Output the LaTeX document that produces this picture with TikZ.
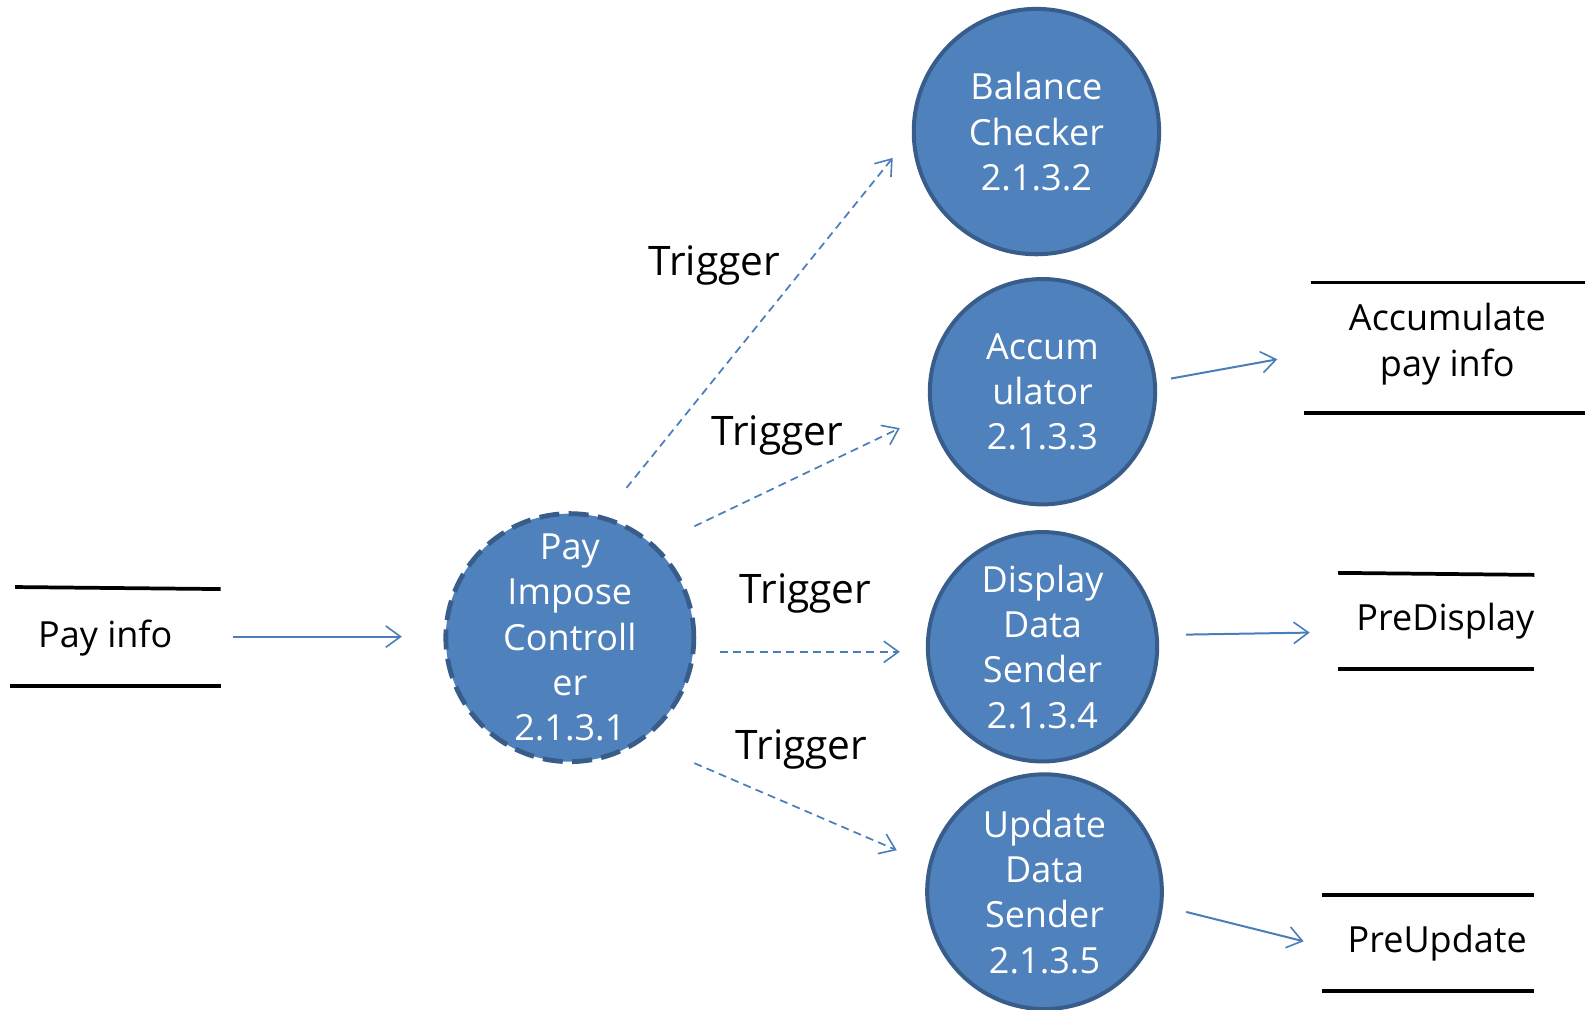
\documentclass[tikz,border=0pt]{standalone}
\usepackage{fontspec}
\setmainfont{Open Sans}
\usetikzlibrary{arrows.meta,shapes.geometric}
\definecolor{procfill}{HTML}{4F81BD}
\definecolor{procline}{HTML}{385D8A}
\definecolor{flowcol}{HTML}{4A7EBB}
\tikzset{
  proc/.style={circle, fill=procfill, draw=procline, line width=3pt, inner sep=0pt},
  proctext/.style={text=white, align=center, inner sep=0pt, font=\fontsize{27}{34}\selectfont},
  lbl/.style={font=\fontsize{27}{34}\selectfont, align=center, inner sep=0pt},
  triglbl/.style={font=\fontsize{30.5}{34}\selectfont, inner sep=0pt},
  storeline/.style={line width=2.8pt, black},
  trig/.style={draw=flowcol, line width=1.3pt, dash pattern=on 6pt off 4pt, -{Straight Barb[length=11pt,width=16pt,line width=1.2pt]}},
  flow/.style={draw=flowcol, line width=1.5pt, -{Straight Barb[length=11pt,width=16pt,line width=1.2pt]}},
}
\begin{document}
\begin{tikzpicture}[x=0.759pt,y=-0.759pt]
\useasboundingbox (0,0) rectangle (1566,997);
% processes
\node[proc, line width=3.6pt, dash pattern=on 15pt off 7pt, minimum size=186pt] (p1) at (563,630) {};
\node[proctext] (p1t) at (p1.center) {Pay\\Impose\\Controll\\er\\2.1.3.1};
\node[proc, minimum size=184pt] (p2) at (1024,130) {};
\node[proctext] (p2t) at (p2.center) {Balance\\Checker\\2.1.3.2};
\node[proc, minimum size=169pt] (p3) at (1030,387) {};
\node[proctext] (p3t) at (p3.center) {Accum\\ulator\\2.1.3.3};
\node[proc, minimum size=172pt] (p4) at (1030,639) {};
\node[proctext] (p4t) at (p4.center) {Display\\Data\\Sender\\2.1.3.4};
\node[proc, minimum size=176pt] (p5) at (1032,881) {};
\node[proctext] (p5t) at (p5.center) {Update\\Data\\Sender\\2.1.3.5};
% stores
\draw[storeline] (15,580) -- (218,582);
\draw[storeline] (10,678) -- (218,678);
\node[lbl] (s0) at (104,630) {Pay info};
\draw[storeline] (1295,279) -- (1570,279);
\draw[storeline] (1288,408) -- (1570,408);
\node[lbl] (s1) at (1430,340) {Accumulate\\pay info};
\draw[storeline] (1322,566) -- (1516,568);
\draw[storeline] (1322,661) -- (1516,661);
\node[lbl] (s2) at (1428,614) {PreDisplay};
\draw[storeline] (1306,884) -- (1516,884);
\draw[storeline] (1306,979) -- (1516,979);
\node[lbl] (s3) at (1420,932) {PreUpdate};
% connector ends
\coordinate (a0s) at (230,629); \coordinate (a0e) at (397,629);
\coordinate (t1s) at (619,482); \coordinate (t1e) at (882,156);
\coordinate (t2s) at (686,520); \coordinate (t2e) at (889,423);
\coordinate (t3s) at (711,644); \coordinate (t3e) at (889,644);
\coordinate (t4s) at (686,754); \coordinate (t4e) at (886,840);
\coordinate (f1s) at (1157,374); \coordinate (f1e) at (1262,355);
\coordinate (f2s) at (1172,627); \coordinate (f2e) at (1294,625);
\coordinate (f3s) at (1172,901); \coordinate (f3e) at (1288,930);
\draw[flow] (a0s) -- (a0e);
\draw[trig] (t1s) -- (t1e);
\draw[trig] (t2s) -- (t2e);
\draw[trig] (t3s) -- (t3e);
\draw[trig] (t4s) -- (t4e);
\draw[flow] (f1s) -- (f1e);
\draw[flow] (f2s) -- (f2e);
\draw[flow] (f3s) -- (f3e);
% labels
\node[triglbl] (l1) at (706,262) {Trigger};
\node[triglbl] (l2) at (768,430) {Trigger};
\node[triglbl] (l3) at (796,586) {Trigger};
\node[triglbl] (l4) at (792,740) {Trigger};
\end{tikzpicture}
\end{document}
